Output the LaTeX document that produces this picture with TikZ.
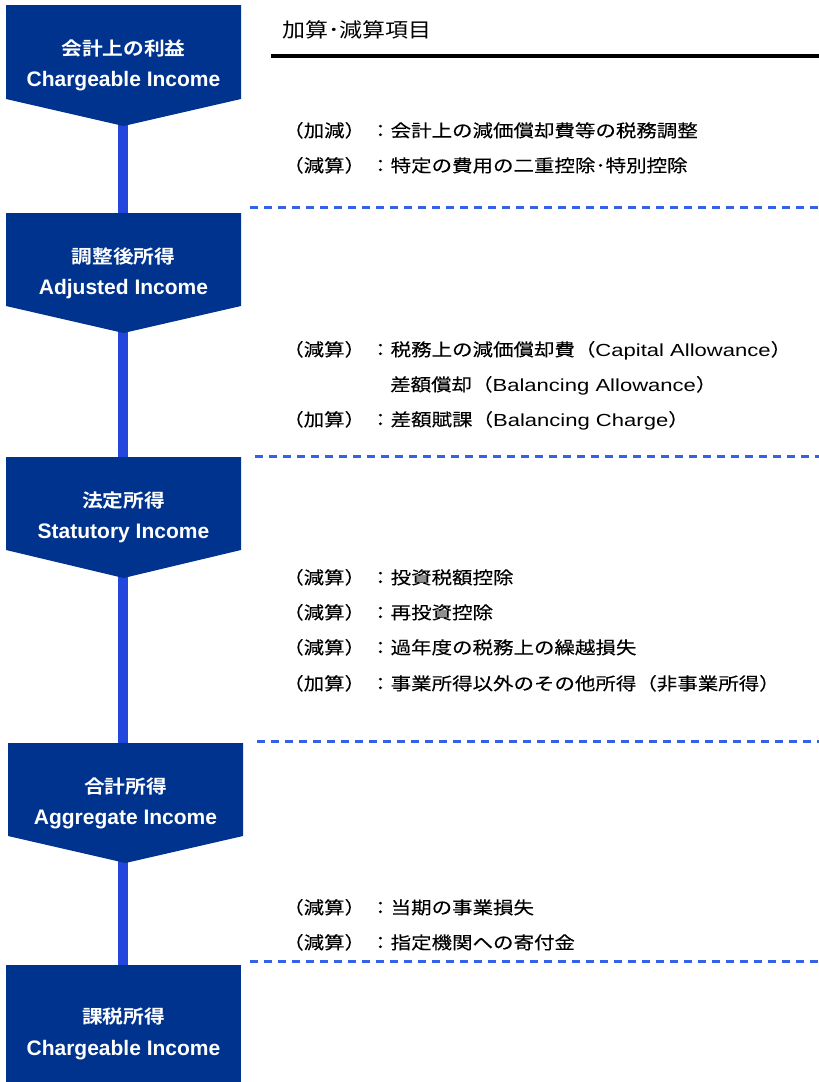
\documentclass[tikz,border=0pt]{standalone}
\usepackage{fontspec}
\setmainfont{Liberation Sans}
\newfontfamily\jp[FakeStretch=1.17,FakeBold=0.15]{Noto Sans CJK JP}
\newfontfamily\jpT[FakeStretch=1.15]{Noto Sans CJK JP}
\newfontfamily\jpB[FakeStretch=1.12]{Noto Sans CJK JP Bold}
\newfontfamily\en[FakeStretch=1.26]{Liberation Sans}
\newcommand{\lat}[1]{{\en\fontsize{17.5}{20}\selectfont #1}}
\definecolor{navy}{HTML}{00338D}
\definecolor{linkblue}{HTML}{2346DC}
\definecolor{dashblue}{HTML}{3362E6}
\tikzset{
  stepshape/.style={fill=navy},
  conn/.style={draw=linkblue, line width=10pt},
  sepline/.style={draw=dashblue, line width=2.5pt, dash pattern=on 7.5pt off 6.5pt},
  item/.style={anchor=base west, inner sep=0pt, font=\jp\fontsize{17.5}{20}\selectfont},
  jptitle/.style={anchor=base, inner sep=0pt, text=white, font=\jpB\fontsize{18.5}{22}\selectfont},
  entitle/.style={anchor=base, inner sep=0pt, text=white, font=\fontsize{21}{24}\selectfont\bfseries},
}
\begin{document}
\begin{tikzpicture}[x=1pt,y=-1pt]
\useasboundingbox (0,0) rectangle (819,1082);
% connectors (behind boxes)
\coordinate (t1) at (123,120);
\coordinate (h2) at (123,216);
\coordinate (t2) at (123,327);
\coordinate (h3) at (123,460);
\coordinate (t3) at (123,572);
\coordinate (h4) at (123,746);
\coordinate (t4) at (123,857);
\coordinate (h5) at (123,968);
\draw[conn] (t1) -- (h2);
\draw[conn] (t2) -- (h3);
\draw[conn] (t3) -- (h4);
\draw[conn] (t4) -- (h5);
% step boxes
\fill[stepshape] (6,5) -- (241,5) -- (241,99) -- (123.5,126) -- (6,99) -- cycle;
\fill[stepshape] (6,213) -- (241,213) -- (241,306) -- (123.5,333) -- (6,306) -- cycle;
\fill[stepshape] (6,457) -- (241,457) -- (241,550) -- (123.5,578) -- (6,550) -- cycle;
\fill[stepshape] (8,743) -- (243,743) -- (243,836) -- (125.5,863) -- (8,836) -- cycle;
\fill[stepshape] (6,965) rectangle (241,1082);
% box texts
\node[jptitle] (j1) at (123.5,55) {会計上の利益};
\node[entitle] (e1) at (123.5,86.5) {Chargeable Income};
\node[jptitle] (j2) at (123.5,263) {調整後所得};
\node[entitle] (e2) at (123.5,294.5) {Adjusted Income};
\node[jptitle] (j3) at (123.5,507) {法定所得};
\node[entitle] (e3) at (123.5,538.5) {Statutory Income};
\node[jptitle] (j4) at (125.5,793) {合計所得};
\node[entitle] (e4) at (125.5,824.5) {Aggregate Income};
\node[jptitle] (j5) at (123.5,1023) {課税所得};
\node[entitle] (e5) at (123.5,1055) {Chargeable Income};
% header
\node[anchor=base west, inner sep=0pt, font=\jpT\fontsize{20}{23}\selectfont] (hd) at (282,37) {加算･減算項目};
\coordinate (hl) at (271,56);
\coordinate (hr) at (819,56);
\draw[line width=3.5pt] (hl) -- (hr);
% separators
\coordinate (s1l) at (250,207.5); \coordinate (s1r) at (819,207.5);
\coordinate (s2l) at (255,456.5); \coordinate (s2r) at (819,456.5);
\coordinate (s3l) at (257,741.5); \coordinate (s3r) at (819,741.5);
\coordinate (s4l) at (250,961.5); \coordinate (s4r) at (819,961.5);
\draw[sepline] (s1l) -- (s1r);
\draw[sepline] (s2l) -- (s2r);
\draw[sepline] (s3l) -- (s3r);
\draw[sepline] (s4l) -- (s4r);
% items
\node[item] (a1) at (283,137) {（加減）};
\node[item] (a1t) at (370,137) {：会計上の減価償却費等の税務調整};
\node[item] (a2) at (283,172) {（減算）};
\node[item] (a2t) at (370,172) {：特定の費用の二重控除･特別控除};
\node[item] (b1) at (283,356) {（減算）};
\node[item] (b1t) at (370,356) {：税務上の減価償却費（\lat{Capital Allowance}）};
\node[item] (b2t) at (390,391) {差額償却（\lat{Balancing Allowance}）};
\node[item] (b3) at (283,426) {（加算）};
\node[item] (b3t) at (370,426) {：差額賦課（\lat{Balancing Charge}）};
\node[item] (c1) at (283,584) {（減算）};
\node[item] (c1t) at (370,584) {：投資税額控除};
\node[item] (c2) at (283,619) {（減算）};
\node[item] (c2t) at (370,619) {：再投資控除};
\node[item] (c3) at (283,654) {（減算）};
\node[item] (c3t) at (370,654) {：過年度の税務上の繰越損失};
\node[item] (c4) at (283,690) {（加算）};
\node[item] (c4t) at (370,690) {：事業所得以外のその他所得（非事業所得）};
\node[item] (d1) at (283,914) {（減算）};
\node[item] (d1t) at (370,914) {：当期の事業損失};
\node[item] (d2) at (283,949) {（減算）};
\node[item] (d2t) at (370,949) {：指定機関への寄付金};
\end{tikzpicture}
\end{document}
